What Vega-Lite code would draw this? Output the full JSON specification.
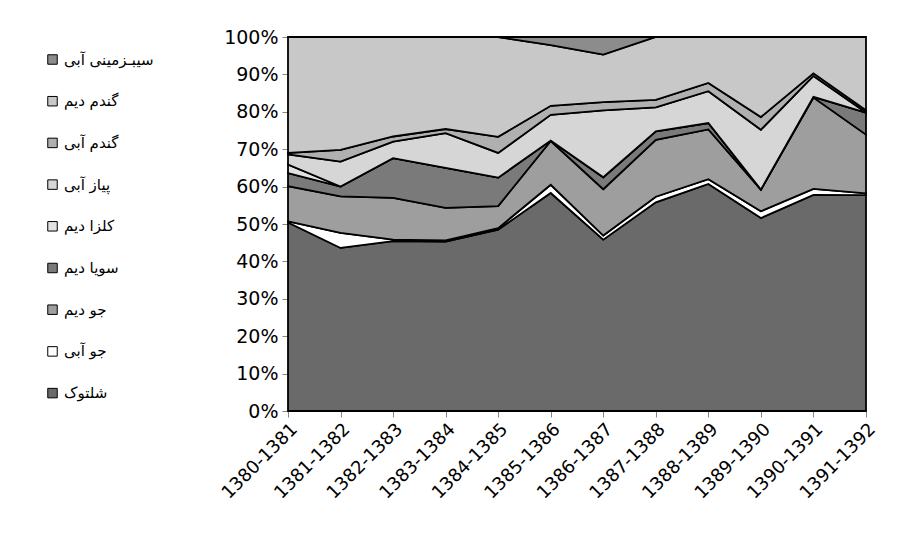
{
  "$schema": "https://vega.github.io/schema/vega-lite/v6.json",
  "autosize": "none",
  "width": 578,
  "height": 374,
  "padding": {"left": 288, "top": 37, "right": 37, "bottom": 129},
  "background": "white",
  "data": {"values": [
    {"p":"1380-1381","c":"شلتوک","k":1,"v":50.4},{"p":"1380-1381","c":"جو آبی","k":2,"v":0.3},{"p":"1380-1381","c":"جو دیم","k":3,"v":9.4},{"p":"1380-1381","c":"سویا دیم","k":4,"v":3.5},{"p":"1380-1381","c":"کلزا دیم","k":5,"v":2.3},{"p":"1380-1381","c":"پیاز آبی","k":6,"v":2.7},{"p":"1380-1381","c":"گندم آبی","k":7,"v":0.4},{"p":"1380-1381","c":"گندم دیم","k":8,"v":31.0},{"p":"1380-1381","c":"سیبـزمینی آبی","k":9,"v":0},
    {"p":"1381-1382","c":"شلتوک","k":1,"v":43.6},{"p":"1381-1382","c":"جو آبی","k":2,"v":4.0},{"p":"1381-1382","c":"جو دیم","k":3,"v":9.8},{"p":"1381-1382","c":"سویا دیم","k":4,"v":2.6},{"p":"1381-1382","c":"کلزا دیم","k":5,"v":0},{"p":"1381-1382","c":"پیاز آبی","k":6,"v":6.7},{"p":"1381-1382","c":"گندم آبی","k":7,"v":3.1},{"p":"1381-1382","c":"گندم دیم","k":8,"v":30.2},{"p":"1381-1382","c":"سیبـزمینی آبی","k":9,"v":0},
    {"p":"1382-1383","c":"شلتوک","k":1,"v":45.4},{"p":"1382-1383","c":"جو آبی","k":2,"v":0.4},{"p":"1382-1383","c":"جو دیم","k":3,"v":11.2},{"p":"1382-1383","c":"سویا دیم","k":4,"v":10.6},{"p":"1382-1383","c":"کلزا دیم","k":5,"v":0},{"p":"1382-1383","c":"پیاز آبی","k":6,"v":4.4},{"p":"1382-1383","c":"گندم آبی","k":7,"v":1.4},{"p":"1382-1383","c":"گندم دیم","k":8,"v":26.6},{"p":"1382-1383","c":"سیبـزمینی آبی","k":9,"v":0},
    {"p":"1383-1384","c":"شلتوک","k":1,"v":45.3},{"p":"1383-1384","c":"جو آبی","k":2,"v":0.3},{"p":"1383-1384","c":"جو دیم","k":3,"v":8.7},{"p":"1383-1384","c":"سویا دیم","k":4,"v":10.7},{"p":"1383-1384","c":"کلزا دیم","k":5,"v":0},{"p":"1383-1384","c":"پیاز آبی","k":6,"v":9.3},{"p":"1383-1384","c":"گندم آبی","k":7,"v":1.1},{"p":"1383-1384","c":"گندم دیم","k":8,"v":24.6},{"p":"1383-1384","c":"سیبـزمینی آبی","k":9,"v":0},
    {"p":"1384-1385","c":"شلتوک","k":1,"v":48.5},{"p":"1384-1385","c":"جو آبی","k":2,"v":0.4},{"p":"1384-1385","c":"جو دیم","k":3,"v":5.9},{"p":"1384-1385","c":"سویا دیم","k":4,"v":7.6},{"p":"1384-1385","c":"کلزا دیم","k":5,"v":0},{"p":"1384-1385","c":"پیاز آبی","k":6,"v":6.6},{"p":"1384-1385","c":"گندم آبی","k":7,"v":4.3},{"p":"1384-1385","c":"گندم دیم","k":8,"v":26.7},{"p":"1384-1385","c":"سیبـزمینی آبی","k":9,"v":0},
    {"p":"1385-1386","c":"شلتوک","k":1,"v":58.3},{"p":"1385-1386","c":"جو آبی","k":2,"v":2.2},{"p":"1385-1386","c":"جو دیم","k":3,"v":11.7},{"p":"1385-1386","c":"سویا دیم","k":4,"v":0.1},{"p":"1385-1386","c":"کلزا دیم","k":5,"v":0},{"p":"1385-1386","c":"پیاز آبی","k":6,"v":6.9},{"p":"1385-1386","c":"گندم آبی","k":7,"v":2.4},{"p":"1385-1386","c":"گندم دیم","k":8,"v":16.2},{"p":"1385-1386","c":"سیبـزمینی آبی","k":9,"v":2.2},
    {"p":"1386-1387","c":"شلتوک","k":1,"v":45.8},{"p":"1386-1387","c":"جو آبی","k":2,"v":1.1},{"p":"1386-1387","c":"جو دیم","k":3,"v":12.4},{"p":"1386-1387","c":"سویا دیم","k":4,"v":3.2},{"p":"1386-1387","c":"کلزا دیم","k":5,"v":0},{"p":"1386-1387","c":"پیاز آبی","k":6,"v":17.9},{"p":"1386-1387","c":"گندم آبی","k":7,"v":2.2},{"p":"1386-1387","c":"گندم دیم","k":8,"v":12.7},{"p":"1386-1387","c":"سیبـزمینی آبی","k":9,"v":4.7},
    {"p":"1387-1388","c":"شلتوک","k":1,"v":55.8},{"p":"1387-1388","c":"جو آبی","k":2,"v":1.5},{"p":"1387-1388","c":"جو دیم","k":3,"v":15.2},{"p":"1387-1388","c":"سویا دیم","k":4,"v":2.3},{"p":"1387-1388","c":"کلزا دیم","k":5,"v":0},{"p":"1387-1388","c":"پیاز آبی","k":6,"v":6.4},{"p":"1387-1388","c":"گندم آبی","k":7,"v":2.0},{"p":"1387-1388","c":"گندم دیم","k":8,"v":16.8},{"p":"1387-1388","c":"سیبـزمینی آبی","k":9,"v":0},
    {"p":"1388-1389","c":"شلتوک","k":1,"v":60.7},{"p":"1388-1389","c":"جو آبی","k":2,"v":1.3},{"p":"1388-1389","c":"جو دیم","k":3,"v":13.3},{"p":"1388-1389","c":"سویا دیم","k":4,"v":1.7},{"p":"1388-1389","c":"کلزا دیم","k":5,"v":0},{"p":"1388-1389","c":"پیاز آبی","k":6,"v":8.5},{"p":"1388-1389","c":"گندم آبی","k":7,"v":2.2},{"p":"1388-1389","c":"گندم دیم","k":8,"v":12.3},{"p":"1388-1389","c":"سیبـزمینی آبی","k":9,"v":0},
    {"p":"1389-1390","c":"شلتوک","k":1,"v":51.6},{"p":"1389-1390","c":"جو آبی","k":2,"v":1.8},{"p":"1389-1390","c":"جو دیم","k":3,"v":5.8},{"p":"1389-1390","c":"سویا دیم","k":4,"v":0},{"p":"1389-1390","c":"کلزا دیم","k":5,"v":0},{"p":"1389-1390","c":"پیاز آبی","k":6,"v":16.0},{"p":"1389-1390","c":"گندم آبی","k":7,"v":3.4},{"p":"1389-1390","c":"گندم دیم","k":8,"v":21.4},{"p":"1389-1390","c":"سیبـزمینی آبی","k":9,"v":0},
    {"p":"1390-1391","c":"شلتوک","k":1,"v":57.8},{"p":"1390-1391","c":"جو آبی","k":2,"v":1.6},{"p":"1390-1391","c":"جو دیم","k":3,"v":24.4},{"p":"1390-1391","c":"سویا دیم","k":4,"v":0.2},{"p":"1390-1391","c":"کلزا دیم","k":5,"v":0},{"p":"1390-1391","c":"پیاز آبی","k":6,"v":5.6},{"p":"1390-1391","c":"گندم آبی","k":7,"v":0.7},{"p":"1390-1391","c":"گندم دیم","k":8,"v":9.7},{"p":"1390-1391","c":"سیبـزمینی آبی","k":9,"v":0},
    {"p":"1391-1392","c":"شلتوک","k":1,"v":57.7},{"p":"1391-1392","c":"جو آبی","k":2,"v":0.5},{"p":"1391-1392","c":"جو دیم","k":3,"v":15.7},{"p":"1391-1392","c":"سویا دیم","k":4,"v":5.9},{"p":"1391-1392","c":"کلزا دیم","k":5,"v":0},{"p":"1391-1392","c":"پیاز آبی","k":6,"v":0},{"p":"1391-1392","c":"گندم آبی","k":7,"v":0.6},{"p":"1391-1392","c":"گندم دیم","k":8,"v":19.6},{"p":"1391-1392","c":"سیبـزمینی آبی","k":9,"v":0}
  ]},
  "mark": {"type": "area", "stroke": "black", "strokeWidth": 1.8, "strokeJoin": "miter", "opacity": 1, "fillOpacity": 1},
  "encoding": {
    "x": {
      "field": "p", "type": "ordinal",
      "scale": {"type": "point", "padding": 0},
      "axis": {
        "title": null, "labelAngle": -45, "labelFont": "DejaVu Sans", "labelFontSize": 18,
        "labelColor": "black", "domainColor": "#868686", "tickColor": "#868686",
        "tickSize": 6, "labelPadding": 3, "grid": false
      }
    },
    "y": {
      "field": "v", "type": "quantitative", "stack": "normalize",
      "scale": {"domain": [0, 1], "nice": false},
      "axis": {
        "title": null, "format": ".0%", "values": [0,0.1,0.2,0.3,0.4,0.5,0.6,0.7,0.8,0.9,1],
        "labelFont": "DejaVu Sans", "labelFontSize": 19, "labelColor": "black",
        "domainColor": "#868686", "tickColor": "#868686", "tickSize": 6, "labelPadding": 4, "grid": false
      }
    },
    "order": {"field": "k", "type": "quantitative", "sort": "ascending"},
    "color": {
      "field": "c", "type": "nominal",
      "scale": {
        "domain": ["سیبـزمینی آبی","گندم دیم","گندم آبی","پیاز آبی","کلزا دیم","سویا دیم","جو دیم","جو آبی","شلتوک"],
        "range": ["#8c8c8c","#c8c8c8","#b0b0b0","#d6d6d6","#e2e2e2","#7a7a7a","#9e9e9e","#ffffff","#6a6a6a"]
      },
      "legend": {
        "title": null, "orient": "none", "legendX": -243, "legendY": 15, "padding": 0,
        "symbolType": "square", "symbolSize": 90, "symbolStrokeColor": "black", "symbolStrokeWidth": 1,
        "labelFont": "DejaVu Sans", "labelFontSize": 15, "labelColor": "black", "rowPadding": 25.7, "labelOffset": 4
      }
    }
  },
  "config": {"view": {"stroke": null}}
}
